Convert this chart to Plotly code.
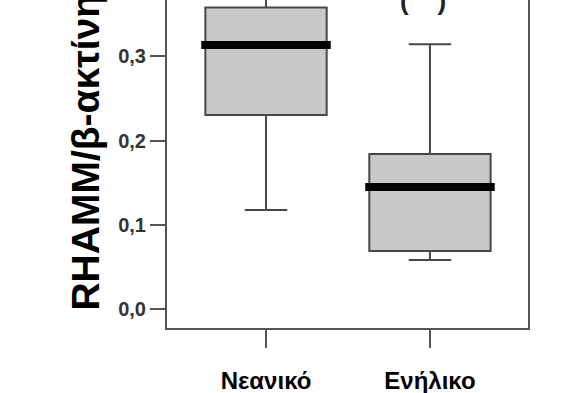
import plotly.graph_objects as go

groups = ["Νεανικό", "Ενήλικο"]
q1 = [0.2305, 0.0692]
median = [0.3135, 0.1451]
q3 = [0.358, 0.1842]
lowerfence = [0.1178, 0.0584]
upperfence = [0.40, 0.3143]
ytick_vals = [0.0, 0.1, 0.2, 0.3]
ytick_text = ["0,0", "0,1", "0,2", "0,3"]
y_title = "RHAMM/β-ακτίνη"
outlier_label = "(\u00a0\u00a0\u00a0\u00a0)"

xs = list(range(len(groups)))
BOXW = 0.74
MEDHALF = 0.395

fig = go.Figure()
fig.add_trace(go.Box(
    x=xs, q1=q1, median=median, q3=q3,
    lowerfence=lowerfence, upperfence=upperfence,
    width=BOXW, whiskerwidth=0.35,
    fillcolor="#c8c8c8",
    line=dict(color="#474747", width=2),
    boxpoints=False, showlegend=False, hoverinfo="skip",
))
for i, m in enumerate(median):
    fig.add_trace(go.Scatter(
        x=[xs[i] - MEDHALF, xs[i] + MEDHALF], y=[m, m], mode="lines",
        line=dict(color="#000000", width=8), showlegend=False, hoverinfo="skip",
    ))

fig.add_trace(go.Scatter(x=[0], y=[0], yaxis="y2", mode="markers",
                         marker=dict(opacity=0), showlegend=False, hoverinfo="skip"))

fig.add_annotation(
    text=y_title, textangle=-90, xref="paper", yref="paper",
    x=-0.227, y=0.535, xanchor="center", yanchor="middle", showarrow=False,
    font=dict(family="Liberation Sans", size=39, color="#000000", weight="bold"),
)
fig.add_annotation(
    text=outlier_label, xref="x", yref="paper", x=0.96, y=0.945,
    xanchor="center", yanchor="bottom", showarrow=False,
    font=dict(family="Liberation Sans", size=26, color="#222222", weight="bold"),
)

fig.update_layout(
    width=579, height=393,
    margin=dict(l=167, r=51, t=0, b=65, autoexpand=False),
    paper_bgcolor="white", plot_bgcolor="white",
    xaxis=dict(
        range=[-0.604, 1.598], tickvals=xs, ticktext=groups,
        showline=True, linecolor="#555555", linewidth=2,
        ticks="outside", ticklen=18, tickwidth=2, tickcolor="#555555",
        ticklabelstandoff=12, showgrid=False, zeroline=False,
        tickfont=dict(family="Liberation Sans", size=24, color="#000000", weight="bold"),
    ),
    yaxis=dict(
        range=[-0.0222, 0.3669], tickvals=ytick_vals, ticktext=ytick_text,
        showline=True, linecolor="#555555", linewidth=2,
        ticks="outside", ticklen=15, tickwidth=2, tickcolor="#555555",
        showgrid=False, zeroline=False,
        tickfont=dict(family="Liberation Sans", size=20, color="#333333", weight="bold"),
    ),
    yaxis2=dict(
        overlaying="y", side="right", range=[-0.0222, 0.3669],
        showline=True, linecolor="#555555", linewidth=2,
        showticklabels=False, ticks="", showgrid=False, zeroline=False,
    ),
)

fig.write_html("out.html", config={"displayModeBar": False},
               post_script="document.body.style.margin='0';document.body.style.overflow='hidden';")
